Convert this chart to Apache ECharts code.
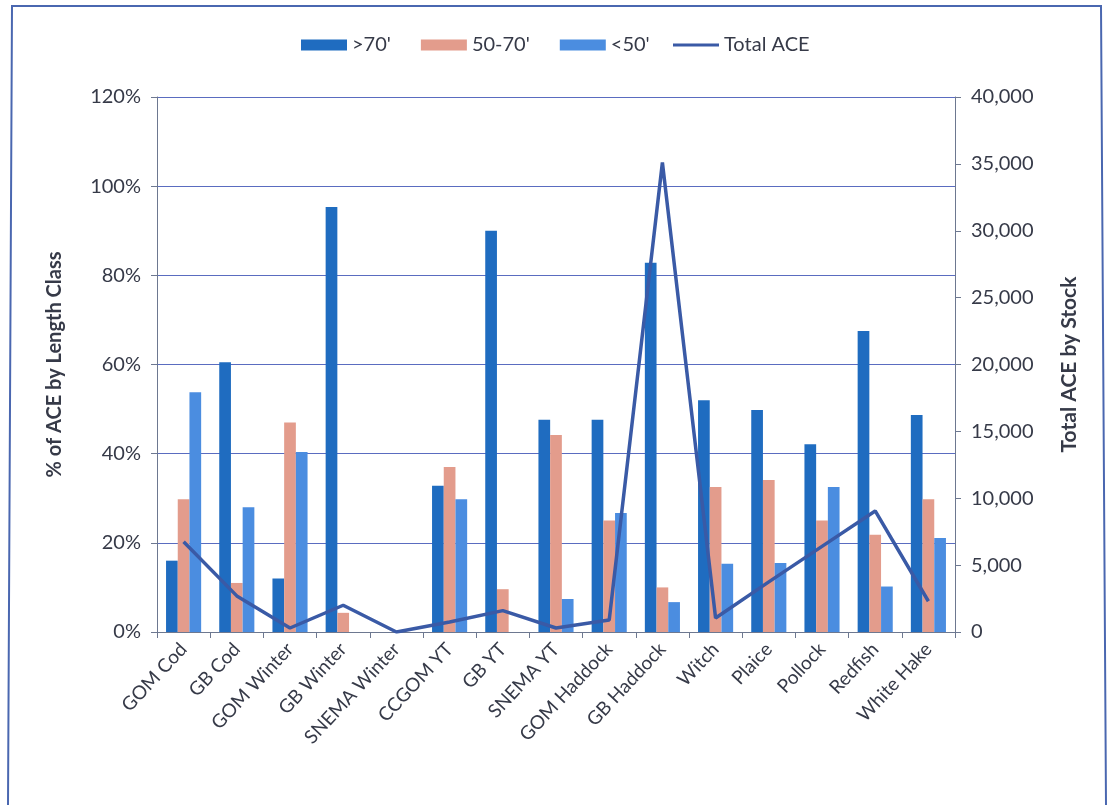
<!DOCTYPE html>
<html>
<head>
<meta charset="utf-8">
<script src="https://cdn.jsdelivr.net/npm/echarts@6/dist/echarts.min.js"></script>
<style>
  html, body { margin: 0; padding: 0; background: #ffffff; }
  #chart { width: 1107px; height: 805px; }
</style>
</head>
<body>
<div id="chart"></div>
<script>
// Stocks on the category axis
const stocks = ['GOM Cod', 'GB Cod', 'GOM Winter', 'GB Winter', 'SNEMA Winter', 'CCGOM YT', 'GB YT',
  'SNEMA YT', 'GOM Haddock', 'GB Haddock', 'Witch', 'Plaice', 'Pollock', 'Redfish', 'White Hake'];

// Share of ACE held by each vessel length class (%)
const over70 = [16, 60.5, 12, 95.3, null, 32.8, 90, 47.6, 47.6, 82.8, 52, 49.8, 42.1, 67.5, 48.7];
const from50to70 = [29.8, 11, 47, 4.3, null, 37, 9.6, 44.2, 25, 10, 32.5, 34.1, 25, 21.8, 29.8];
const under50 = [53.8, 28, 40.4, null, null, 29.8, null, 7.4, 26.7, 6.7, 15.3, 15.5, 32.5, 10.2, 21.1];

// Total ACE per stock (right axis)
const totalAce = [6750, 2700, 300, 2000, 0, 750, 1600, 300, 900, 35100, 1050, 3750, 6400, 9050, 2300];

// Axis ranges
const pctMax = 120, pctStep = 20;
const aceMax = 40000, aceStep = 5000;

const textColor = '#363a48';
const axisColor = '#6d7890';
const font = 'Lato, "Open Sans", sans-serif';
const legendText = { fontSize: 20, color: textColor, fontFamily: font, lineHeight: 24 };

const chart = echarts.init(document.getElementById('chart'));
chart.setOption({
  animation: false,
  backgroundColor: '#ffffff',
  textStyle: { fontFamily: font },
  graphic: [{
    type: 'polyline',
    shape: { points: [[8, 805], [12, 6], [1101, 6], [1106, 805]] },
    style: { stroke: '#4a67b0', lineWidth: 2, fill: null }
  }],
  legend: [{
    // bar series keys
    top: 33,
    left: 301,
    padding: 0,
    itemWidth: 46,
    itemHeight: 11,
    itemGap: 30,
    textStyle: legendText,
    data: [
      { name: ">70'", icon: 'rect' },
      { name: "50-70'", icon: 'rect' },
      { name: "<50'", icon: 'rect' }
    ]
  }, {
    // line series key
    top: 33,
    left: 673,
    padding: 0,
    itemWidth: 46,
    itemHeight: 3,
    textStyle: legendText,
    data: [{ name: 'Total ACE', icon: 'rect' }]
  }],
  grid: { left: 157, right: 152, top: 97, bottom: 173 },
  xAxis: {
    type: 'category',
    data: stocks,
    axisLine: { lineStyle: { color: axisColor, width: 1 } },
    axisTick: { show: true, length: 6, lineStyle: { color: axisColor } },
    axisLabel: {
      rotate: 47,
      margin: 14,
      fontSize: 19,
      color: textColor,
      fontFamily: font,
      interval: 0
    }
  },
  yAxis: [{
    type: 'value',
    min: 0,
    max: pctMax,
    interval: pctStep,
    name: '% of ACE by Length Class',
    nameLocation: 'middle',
    nameGap: 92,
    nameTextStyle: { fontSize: 20, fontWeight: 'bold', color: textColor, fontFamily: font },
    axisLine: { show: true, lineStyle: { color: axisColor } },
    axisTick: { show: true, length: 6, lineStyle: { color: axisColor } },
    axisLabel: { formatter: '{value}%', fontSize: 20, color: textColor, margin: 16, fontFamily: font },
    splitLine: { show: true, lineStyle: { color: '#5a6cc0', width: 1 } }
  }, {
    type: 'value',
    min: 0,
    max: aceMax,
    interval: aceStep,
    name: 'Total ACE by Stock',
    nameLocation: 'middle',
    nameGap: 104,
    nameRotate: 90,
    nameTextStyle: { fontSize: 21, fontWeight: 'bold', color: textColor, fontFamily: font },
    axisLine: { show: true, lineStyle: { color: axisColor } },
    axisTick: { show: true, length: 6, lineStyle: { color: axisColor } },
    axisLabel: {
      fontSize: 20, color: textColor, margin: 16, fontFamily: font,
      formatter: v => v.toLocaleString('en-US')
    },
    splitLine: { show: false }
  }],
  series: [{
    name: ">70'",
    type: 'bar',
    data: over70,
    barGap: '0%',
    barCategoryGap: '34%',
    itemStyle: { color: '#1f6cc0' }
  }, {
    name: "50-70'",
    type: 'bar',
    data: from50to70,
    itemStyle: { color: '#e39c8c' }
  }, {
    name: "<50'",
    type: 'bar',
    data: under50,
    itemStyle: { color: '#4b8de0' }
  }, {
    name: 'Total ACE',
    type: 'line',
    yAxisIndex: 1,
    data: totalAce,
    symbol: 'none',
    lineStyle: { color: '#3a5aa6', width: 3.5 },
    itemStyle: { color: '#3a5aa6' },
    z: 5
  }]
});
</script>
</body>
</html>
